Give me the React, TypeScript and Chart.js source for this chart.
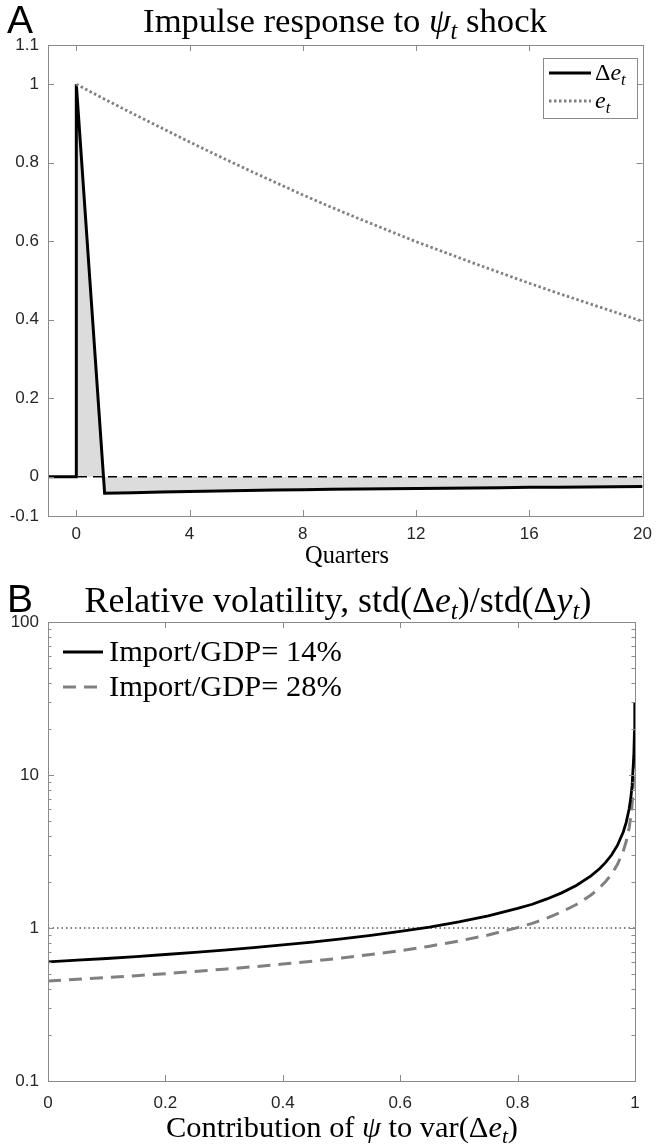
import React, { useEffect, useRef } from "react";
import { Chart, registerables } from "chart.js";

Chart.register(...registerables);

// ---------- Panel A: impulse response ----------
const quartersDelta = [-1, 0, 0, 1, 2, 3, 4, 5, 6, 7, 8, 9, 10, 11, 12, 13, 14, 15, 16, 17, 18, 19, 20];
const deltaE = [0, 0, 1, -0.042, -0.0405, -0.039, -0.0375, -0.036, -0.035, -0.034, -0.033, -0.032, -0.031, -0.0305, -0.03, -0.029, -0.0285, -0.028, -0.027, -0.0265, -0.026, -0.0255, -0.025];
const quartersLevel = [0, 1, 2, 3, 4, 5, 6, 7, 8, 9, 10, 11, 12, 13, 14, 15, 16, 17, 18, 19, 20];
const levelE = [1, 0.962, 0.925, 0.889, 0.853, 0.818, 0.784, 0.751, 0.718, 0.687, 0.657, 0.628, 0.599, 0.572, 0.545, 0.519, 0.493, 0.468, 0.444, 0.42, 0.396];
const zeroLineX = [-1, 20];
const zeroLineY = [0, 0];
const xTicksA = [0, 4, 8, 12, 16, 20];
const yTicksA = [-0.1, 0, 0.2, 0.4, 0.6, 0.8, 1, 1.1];

// ---------- Panel B: relative volatility ----------
const psiShare14 = [0, 0.05, 0.1, 0.15, 0.2, 0.25, 0.3, 0.35, 0.4, 0.45, 0.5, 0.55, 0.6, 0.65, 0.7, 0.75, 0.8, 0.825, 0.85, 0.875, 0.9, 0.925, 0.94, 0.95, 0.96, 0.97, 0.98, 0.985, 0.99, 0.993, 0.995, 0.998, 0.999, 0.9996];
const vol14 = [0.6, 0.616, 0.632, 0.651, 0.671, 0.693, 0.717, 0.744, 0.775, 0.809, 0.849, 0.894, 0.949, 1.014, 1.095, 1.2, 1.342, 1.43, 1.549, 1.697, 1.897, 2.191, 2.449, 2.683, 3.0, 3.464, 4.243, 4.899, 6.0, 7.171, 8.485, 13.42, 18.97, 30.0];
const psiShare28 = [0, 0.05, 0.1, 0.15, 0.2, 0.25, 0.3, 0.35, 0.4, 0.45, 0.5, 0.55, 0.6, 0.65, 0.7, 0.75, 0.8, 0.825, 0.85, 0.875, 0.9, 0.925, 0.94, 0.95, 0.96, 0.97, 0.98, 0.985, 0.99, 0.993, 0.995, 0.998, 0.999];
const vol28 = [0.45, 0.462, 0.474, 0.488, 0.503, 0.52, 0.538, 0.558, 0.581, 0.607, 0.636, 0.671, 0.711, 0.761, 0.822, 0.9, 1.006, 1.073, 1.162, 1.273, 1.423, 1.643, 1.837, 2.012, 2.25, 2.598, 3.182, 3.674, 4.5, 5.379, 6.364, 10.06, 14.2];
const refLineX = [0, 1];
const refLineY = [1, 1];
const xTicksB = [0, 0.2, 0.4, 0.6, 0.8, 1];
const yTicksB = [0.1, 1, 10, 100];
const legendLabelsB = ["Import/GDP= 14%", "Import/GDP= 28%"];

// ---------- styling ----------
const SERIF = '"Liberation Serif", "DejaVu Serif", serif';
const SANS = '"Liberation Sans", Arial, sans-serif';
const AXIS_GRAY = "#8a8a8a";
const TICK_TEXT = "#262626";
const FILL_GRAY = "#dcdcdc";
const LINE_GRAY = "#808080";

type Seg = { t: string; i?: boolean; sub?: boolean };

function segFont(s: Seg, size: number) {
  return `${s.i ? "italic " : ""}${s.sub ? size * 0.7 : size}px ${SERIF}`;
}
function richWidth(ctx: CanvasRenderingContext2D, segs: Seg[], size: number) {
  let w = 0;
  for (const s of segs) {
    ctx.font = segFont(s, size);
    w += ctx.measureText(s.t).width;
  }
  return w;
}
function fitSize(ctx: CanvasRenderingContext2D, segs: Seg[], target: number) {
  return (100 * target) / richWidth(ctx, segs, 100);
}
function drawRich(
  ctx: CanvasRenderingContext2D,
  segs: Seg[],
  x: number,
  y: number,
  size: number,
  align: "center" | "left"
) {
  const total = richWidth(ctx, segs, size);
  let cx = align === "center" ? x - total / 2 : x;
  ctx.textAlign = "left";
  ctx.textBaseline = "alphabetic";
  ctx.fillStyle = "#000";
  for (const s of segs) {
    ctx.font = segFont(s, size);
    ctx.fillText(s.t, cx, y + (s.sub ? size * 0.2 : 0));
    cx += ctx.measureText(s.t).width;
  }
}

type TextItem = { segs: Seg[]; x: number; y: number; fit?: number; size?: number; align: "center" | "left" };
type LegendItem = { segs: Seg[]; color: string; width: number; dash: number[]; y: number };
type DecorCfg = {
  letter: string;
  letterY: number;
  texts: TextItem[];
  legend: { x0: number; x1: number; textX: number; items: LegendItem[]; size: number; fit?: number; box?: [number, number, number, number] };
  logMinor?: boolean;
};

function makeDecor(cfg: DecorCfg) {
  return {
    id: "decor",
    afterDraw(chart: any) {
      const ctx: CanvasRenderingContext2D = chart.ctx;
      const { left, right, top, bottom } = chart.chartArea;
      const xs = chart.scales.x;
      const ys = chart.scales.y;
      ctx.save();
      // frame
      ctx.strokeStyle = AXIS_GRAY;
      ctx.lineWidth = 1;
      ctx.setLineDash([]);
      ctx.strokeRect(Math.round(left) + 0.5, Math.round(top) + 0.5, Math.round(right - left), Math.round(bottom - top));
      const tl = 6;
      ctx.beginPath();
      for (const t of xs.ticks) {
        const px = Math.round(xs.getPixelForValue(t.value)) + 0.5;
        ctx.moveTo(px, bottom);
        ctx.lineTo(px, bottom - tl);
        ctx.moveTo(px, top);
        ctx.lineTo(px, top + tl);
      }
      for (const t of ys.ticks) {
        const py = Math.round(ys.getPixelForValue(t.value)) + 0.5;
        ctx.moveTo(left, py);
        ctx.lineTo(left + tl, py);
        ctx.moveTo(right, py);
        ctx.lineTo(right - tl, py);
      }
      if (cfg.logMinor) {
        for (let d = -1; d < 2; d++) {
          for (let k = 2; k <= 9; k++) {
            const v = k * Math.pow(10, d);
            const py = Math.round(ys.getPixelForValue(v)) + 0.5;
            ctx.moveTo(left, py);
            ctx.lineTo(left + 3.5, py);
            ctx.moveTo(right, py);
            ctx.lineTo(right - 3.5, py);
          }
        }
      }
      ctx.stroke();

      // panel letter
      ctx.fillStyle = "#000";
      ctx.font = `39px ${SANS}`;
      ctx.textAlign = "left";
      ctx.textBaseline = "alphabetic";
      ctx.fillText(cfg.letter, 7, cfg.letterY);

      for (const it of cfg.texts) {
        const size = it.fit ? fitSize(ctx, it.segs, it.fit) : it.size || 20;
        drawRich(ctx, it.segs, it.x, it.y, size, it.align);
      }

      // legend
      const lg = cfg.legend;
      if (lg.box) {
        const [bx0, by0, bx1, by1] = lg.box;
        ctx.fillStyle = "#fff";
        ctx.fillRect(bx0, by0, bx1 - bx0, by1 - by0);
        ctx.strokeStyle = AXIS_GRAY;
        ctx.lineWidth = 1;
        ctx.setLineDash([]);
        ctx.strokeRect(bx0 + 0.5, by0 + 0.5, bx1 - bx0, by1 - by0);
      }
      const lsize = lg.fit ? fitSize(ctx, lg.items[0].segs, lg.fit) : lg.size;
      for (const item of lg.items) {
        ctx.strokeStyle = item.color;
        ctx.lineWidth = item.width;
        ctx.setLineDash(item.dash);
        ctx.lineCap = "butt";
        ctx.beginPath();
        ctx.moveTo(lg.x0, item.y);
        ctx.lineTo(lg.x1, item.y);
        ctx.stroke();
        ctx.setLineDash([]);
        drawRich(ctx, item.segs, lg.textX, item.y + lsize * 0.3, lsize, "left");
      }
      ctx.restore();
    },
  };
}

const tickFont = { family: SANS, size: 17 };

function pts(xs: number[], ys: number[]) {
  return xs.map((x, i) => ({ x, y: ys[i] }));
}

const PANEL_A_H = 575;
const PANEL_B_TOP = 575;
const PANEL_B_H = 1147 - 575;

export default function App() {
  const refA = useRef<HTMLCanvasElement>(null);
  const refB = useRef<HTMLCanvasElement>(null);

  useEffect(() => {
    const deltaSegs: Seg[] = [{ t: "Δ" }, { t: "e", i: true }, { t: "t", i: true, sub: true }];
    const eSegs: Seg[] = [{ t: "e", i: true }, { t: "t", i: true, sub: true }];

    const chartA = new Chart(refA.current!, {
      type: "line",
      data: {
        datasets: [
          {
            label: "zero",
            data: pts(zeroLineX, zeroLineY),
            borderColor: "#000",
            borderWidth: 1.3,
            borderDash: [9, 6],
            pointRadius: 0,
            fill: false,
            order: 3,
          },
          {
            label: "Δe",
            data: pts(quartersDelta, deltaE),
            borderColor: "#000",
            borderWidth: 3,
            backgroundColor: FILL_GRAY,
            fill: "origin",
            pointRadius: 0,
            order: 2,
          },
          {
            label: "e",
            data: pts(quartersLevel, levelE),
            borderColor: LINE_GRAY,
            borderWidth: 2.8,
            borderDash: [2.5, 2.5],
            pointRadius: 0,
            fill: false,
            order: 1,
          },
        ],
      } as any,
      options: {
        animation: false,
        responsive: false,
        maintainAspectRatio: false,
        layout: { padding: { top: 45, right: 12, left: 0, bottom: 0 } },
        plugins: {
          legend: { display: false },
          tooltip: { enabled: false },
          filler: { drawTime: "beforeDatasetsDraw" },
        } as any,
        scales: {
          x: {
            type: "linear",
            min: -1,
            max: 20,
            grid: { display: false, drawTicks: false },
            border: { display: false },
            ticks: { font: tickFont, color: TICK_TEXT, padding: 8, maxRotation: 0, autoSkip: false, callback: (v: any) => String(v) },
            afterBuildTicks: (s: any) => {
              s.ticks = xTicksA.map((v) => ({ value: v }));
            },
            afterFit: (s: any) => {
              s.height = PANEL_A_H - 516;
            },
          },
          y: {
            type: "linear",
            min: -0.1,
            max: 1.1,
            grid: { display: false, drawTicks: false },
            border: { display: false },
            ticks: { font: tickFont, color: TICK_TEXT, padding: 9, autoSkip: false, callback: (v: any) => String(v) },
            afterBuildTicks: (s: any) => {
              s.ticks = yTicksA.map((v) => ({ value: v }));
            },
            afterFit: (s: any) => {
              s.width = 48;
            },
          },
        } as any,
      },
      plugins: [
        makeDecor({
          letter: "A",
          letterY: 33,
          texts: [
            {
              segs: [{ t: "Impulse response to " }, { t: "ψ", i: true }, { t: "t", i: true, sub: true }, { t: " shock" }],
              x: 345,
              y: 32,
              fit: 404,
              align: "center",
            },
            { segs: [{ t: "Quarters" }], x: 347, y: 563, fit: 84, align: "center" },
          ],
          legend: {
            x0: 549,
            x1: 591,
            textX: 595,
            size: 24,
            box: [543, 58, 637, 118],
            items: [
              { segs: deltaSegs, color: "#000", width: 3, dash: [], y: 73 },
              { segs: eSegs, color: LINE_GRAY, width: 2.8, dash: [2.5, 2.5], y: 101 },
            ],
          },
        }) as any,
      ],
    });

    const chartB = new Chart(refB.current!, {
      type: "line",
      data: {
        datasets: [
          {
            label: "one",
            data: pts(refLineX, refLineY),
            borderColor: "#000",
            borderWidth: 1.2,
            borderDash: [1.5, 3],
            pointRadius: 0,
            fill: false,
            order: 3,
          },
          {
            label: legendLabelsB[1],
            data: pts(psiShare28, vol28),
            borderColor: LINE_GRAY,
            borderWidth: 3,
            borderDash: [13, 8],
            pointRadius: 0,
            fill: false,
            order: 2,
          },
          {
            label: legendLabelsB[0],
            data: pts(psiShare14, vol14),
            borderColor: "#000",
            borderWidth: 2.8,
            pointRadius: 0,
            fill: false,
            order: 1,
          },
        ],
      } as any,
      options: {
        animation: false,
        responsive: false,
        maintainAspectRatio: false,
        layout: { padding: { top: 622 - PANEL_B_TOP, right: 660 - 635, left: 0, bottom: 0 } },
        plugins: {
          legend: { display: false },
          tooltip: { enabled: false },
        },
        scales: {
          x: {
            type: "linear",
            min: 0,
            max: 1,
            grid: { display: false, drawTicks: false },
            border: { display: false },
            ticks: { font: tickFont, color: TICK_TEXT, padding: 12, maxRotation: 0, autoSkip: false, callback: (v: any) => String(v) },
            afterBuildTicks: (s: any) => {
              s.ticks = xTicksB.map((v) => ({ value: v }));
            },
            afterFit: (s: any) => {
              s.height = PANEL_B_TOP + PANEL_B_H - 1081;
            },
          },
          y: {
            type: "logarithmic",
            min: 0.1,
            max: 100,
            grid: { display: false, drawTicks: false },
            border: { display: false },
            ticks: { font: tickFont, color: TICK_TEXT, padding: 9, autoSkip: false, callback: (v: any) => String(v) },
            afterBuildTicks: (s: any) => {
              s.ticks = yTicksB.map((v) => ({ value: v }));
            },
            afterFit: (s: any) => {
              s.width = 48;
            },
          },
        } as any,
      },
      plugins: [
        makeDecor({
          letter: "B",
          letterY: 612 - PANEL_B_TOP,
          logMinor: true,
          texts: [
            {
              segs: [
                { t: "Relative volatility, std(" },
                { t: "Δ" },
                { t: "e", i: true },
                { t: "t", i: true, sub: true },
                { t: ")/std(" },
                { t: "Δ" },
                { t: "y", i: true },
                { t: "t", i: true, sub: true },
                { t: ")" },
              ],
              x: 338,
              y: 612 - PANEL_B_TOP,
              fit: 507,
              align: "center",
            },
            {
              segs: [
                { t: "Contribution of " },
                { t: "ψ", i: true },
                { t: " to var(" },
                { t: "Δ" },
                { t: "e", i: true },
                { t: "t", i: true, sub: true },
                { t: ")" },
              ],
              x: 342,
              y: 1137 - PANEL_B_TOP,
              fit: 352,
              align: "center",
            },
          ],
          legend: {
            x0: 63,
            x1: 103,
            textX: 109,
            size: 26,
            fit: 233,
            items: [
              { segs: [{ t: legendLabelsB[0] }], color: "#000", width: 2.8, dash: [], y: 652 - PANEL_B_TOP },
              { segs: [{ t: legendLabelsB[1] }], color: LINE_GRAY, width: 3, dash: [13, 8], y: 687 - PANEL_B_TOP },
            ],
          },
        }) as any,
      ],
    });

    return () => {
      chartA.destroy();
      chartB.destroy();
    };
  }, []);

  return (
    <div style={{ position: "absolute", left: 0, top: 0, width: 660, height: 1147, background: "#fff" }}>
      <canvas ref={refA} width={660} height={PANEL_A_H} style={{ position: "absolute", left: 0, top: 0, display: "block" }} />
      <canvas
        ref={refB}
        width={660}
        height={PANEL_B_H}
        style={{ position: "absolute", left: 0, top: PANEL_B_TOP, display: "block" }}
      />
    </div>
  );
}
